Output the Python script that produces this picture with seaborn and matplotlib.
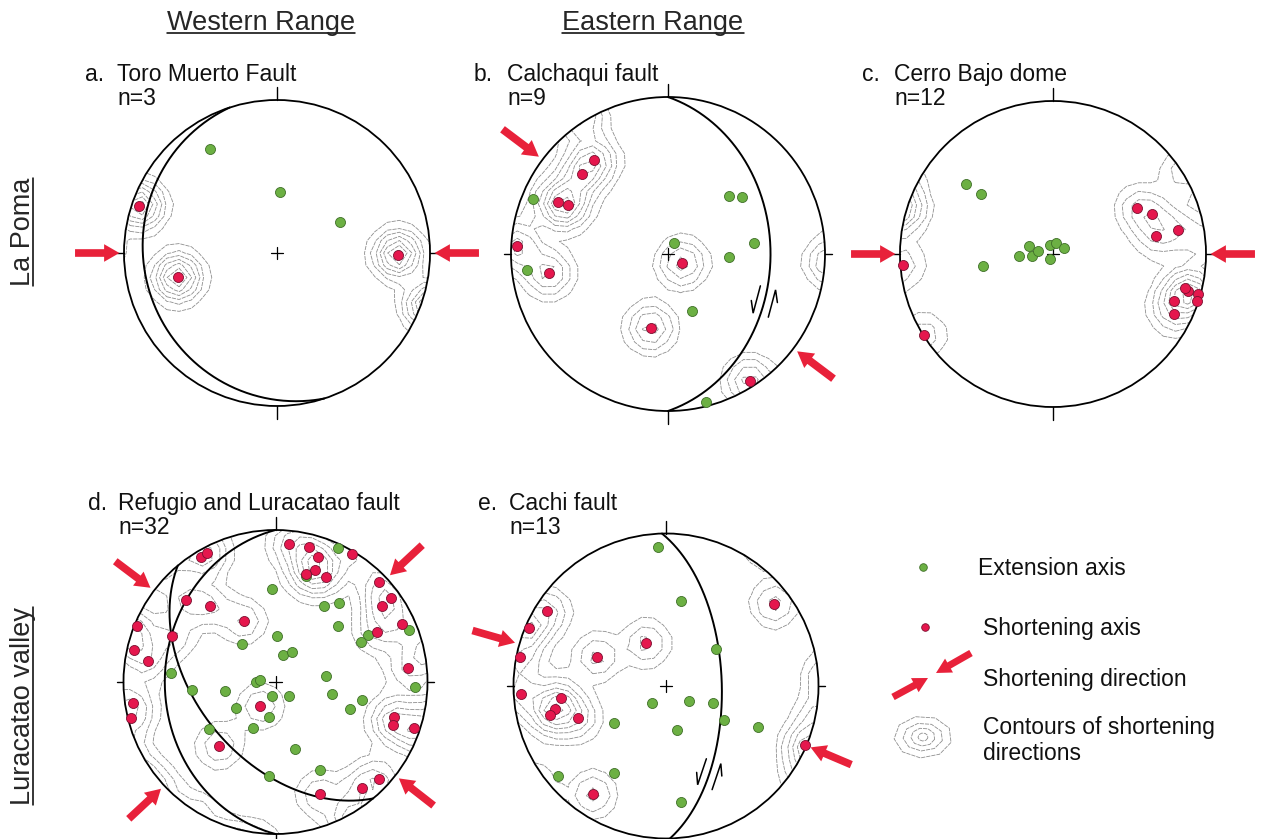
import numpy as np
import matplotlib
matplotlib.use("Agg")
import matplotlib.pyplot as plt
from matplotlib.patches import Circle, FancyArrow, Polygon
import seaborn as sns

sns.set_theme(style="white")
plt.rcParams["font.family"] = ["Liberation Sans", "DejaVu Sans"]

W, H = 1261, 839

# Axis positions on lower-hemisphere equal-area nets (east, north), in % of net radius
a_ext_e = [-44, 2, 41]
a_ext_n = [68, 40, 20]
a_sh_e = [-90, -65, 79]
a_sh_n = [31, -16, -1]

b_ext_e = [-86, -90, 4, 39, 47, 55, 39, 15, 24]
b_ext_n = [35, -10, 7, 37, 36, 7, -2, -36, -94]
b_sh_e = [-47, -55, -70, -64, -96, -76, 9, -11, 52]
b_sh_n = [60, 51, 33, 31, 5, -12, -6, -47, -81]

c_ext_e = [-57, -47, -46, -16, -22, -14, -10, -2, 2, 7, -2]
c_ext_n = [46, 39, -8, 5, -1, -1, 2, 6, 7, 4, -3]
c_sh_e = [55, 65, 67, 82, 88, 86, 95, 94, 79, 79, -98, -84]
c_sh_n = [30, 26, 12, 16, -24, -22, -26, -31, -31, -39, -7, -53]

d_ext_e = [41, 20, -2, 32, 42, 41, 1, -22, 5, 11, 61, 56, 88, -69, -55, -33,
           -13, -10, -2, 9, 33, 37, 57, 49, -26, -4, -15, -44, 13, 29, -4, 92]
d_ext_n = [88, 70, 61, 50, 52, 37, 30, 25, 18, 20, 31, 26, 34, 6, -5, -6,
           0, 1, -9, -9, 4, -8, -12, -18, -17, -23, -30, -31, -44, -58, -62, -3]
d_sh_e = [9, 22, 28, 26, 20, 33, 50, -49, -45, 68, 76, 70, 83, 67, -59, -43,
          -21, -91, -68, -93, -84, 87, -94, -95, -10, 78, 77, 91, -37, 68, 57, 29]
d_sh_n = [91, 89, 82, 74, 71, 69, 84, 82, 85, 66, 55, 50, 38, 33, 54, 50,
          40, 37, 30, 21, 14, 9, -14, -24, -16, -23, -28, -30, -42, -64, -70, -74]

e_ext_e = [-5, 10, 33, -9, 15, 31, 38, 60, 7, -34, -71, -34, 10]
e_ext_n = [91, 56, 24, -11, -10, -11, -22, -27, -29, -24, -59, -57, -76]
e_sh_e = [-78, -90, -96, -95, -69, -73, -76, -58, -45, -13, -48, 71, 91]
e_sh_n = [49, 38, 19, -5, -8, -15, -19, -21, 19, 28, -71, 54, -39]

# Fault planes (strike, dip; right-hand rule)
a_faults = [(162, 14)]
b_faults = [(0, 35)]
c_faults = []
d_faults = [(180, 28), (140, 48)]
e_faults = [(358.5, 60)]

# Shortening directions (azimuth, degrees)
a_short = [90, 270]
b_short = [307, 127]
c_short = [90, 270]
d_short = [307, 47, 227, 128]
e_short = [286, 113]

# Northing (fraction of radius) where the shear-sense symbol sits on the fault
b_shear = [-0.30]
e_shear = [-0.58]

titles = ["Toro Muerto Fault", "Calchaqui fault", "Cerro Bajo dome",
          "Refugio and Luracatao fault", "Cachi fault"]
letters = ["a.", "b.", "c.", "d.", "e."]
counts = [3, 9, 12, 32, 13]

GREEN = "#6cb043"
GREEN_EDGE = "#3f6f28"
RED = "#e5174d"
RED_EDGE = "#7a1030"
ARROW = "#e8213a"
CONTOUR = "#8e8e8e"

panels = [
    dict(c=(277, 253), R=153, ext=(a_ext_e, a_ext_n), sh=(a_sh_e, a_sh_n),
         faults=a_faults, short=a_short, shear=[]),
    dict(c=(668, 254), R=157, ext=(b_ext_e, b_ext_n), sh=(b_sh_e, b_sh_n),
         faults=b_faults, short=b_short, shear=b_shear),
    dict(c=(1053, 254), R=153, ext=(c_ext_e, c_ext_n), sh=(c_sh_e, c_sh_n),
         faults=c_faults, short=c_short, shear=[]),
    dict(c=(275.5, 682), R=152, ext=(d_ext_e, d_ext_n), sh=(d_sh_e, d_sh_n),
         faults=d_faults, short=d_short, shear=[]),
    dict(c=(666, 686), R=152.5, ext=(e_ext_e, e_ext_n), sh=(e_sh_e, e_sh_n),
         faults=e_faults, short=e_short, shear=e_shear),
]


def great_circle(strike, dip, n=361):
    s, d = np.radians(strike), np.radians(dip)
    ang = np.radians(np.linspace(0, 180, n))
    sv = np.array([np.sin(s), np.cos(s), 0.0])
    dd = s + np.pi / 2
    dv = np.array([np.cos(d) * np.sin(dd), np.cos(d) * np.cos(dd), -np.sin(d)])
    v = np.outer(np.cos(ang), sv) + np.outer(np.sin(ang), dv)
    plunge = np.arcsin(np.clip(-v[:, 2], -1, 1))
    trend = np.arctan2(v[:, 0], v[:, 1])
    r = np.sqrt(2) * np.sin((np.pi / 2 - plunge) / 2)
    return r * np.sin(trend), r * np.cos(trend)


def density_grid(px, py, sigma=0.09, step=0.08):
    # counting grid of shortening axes, mirrored across the primitive
    pts = np.column_stack([px, py])
    r = np.hypot(pts[:, 0], pts[:, 1])
    near = r > 0.55
    refl = -pts[near] / r[near, None] * (2 - r[near, None])
    allp = np.vstack([pts, refl])
    g = np.arange(-1.2, 1.2 + step / 2, step)
    gx, gy = np.meshgrid(g, g)
    dens = np.zeros_like(gx)
    for x0, y0 in allp:
        dens += np.exp(-((gx - x0) ** 2 + (gy - y0) ** 2) / (2 * sigma ** 2))
    return gx, gy, dens


fig = plt.figure(figsize=(W / 100, H / 100), dpi=100)
fig.patch.set_facecolor("white")

# full-figure layer for text and legend (pixel coordinates)
ax0 = fig.add_axes([0, 0, 1, 1])
ax0.set_xlim(0, W)
ax0.set_ylim(H, 0)
ax0.axis("off")

L = 1.42
for i, p in enumerate(panels):
    cx, cy = p["c"]
    R = p["R"]
    ax = fig.add_axes([(cx - L * R) / W, 1 - (cy + L * R) / H, 2 * L * R / W, 2 * L * R / H])
    ax.set_xlim(-L, L)
    ax.set_ylim(-L, L)
    ax.axis("off")
    ax.patch.set_alpha(0)

    ex = np.array(p["ext"][0]) / 100.0
    ey = np.array(p["ext"][1]) / 100.0
    sx = np.array(p["sh"][0]) / 100.0
    sy = np.array(p["sh"][1]) / 100.0

    # contours of shortening axes
    gx, gy, dens = density_grid(sx, sy)
    levels = dens.max() * np.array([0.07, 0.17, 0.3, 0.45, 0.6, 0.75, 0.9])
    cs = ax.contour(gx, gy, dens, levels=levels, colors=CONTOUR, linewidths=0.6,
                    linestyles=[(0, (5, 1.2))], zorder=1)
    clip = Circle((0, 0), 1.0, transform=ax.transData, facecolor="none", edgecolor="none")
    ax.add_patch(clip)
    cs.set_clip_path(clip)

    # primitive and ticks
    ax.add_patch(Circle((0, 0), 1.0, facecolor="none", edgecolor="black", lw=1.3, zorder=3))
    ax.plot([0, 0], [1.0, 1.085], color="black", lw=1.0)
    ax.plot([0, 0], [-1.0, -1.085], color="black", lw=1.0)
    ax.plot([1.0, 1.045], [0, 0], color="black", lw=1.0)
    ax.plot([-1.0, -1.045], [0, 0], color="black", lw=1.0)
    ax.plot([-0.04, 0.04], [0, 0], color="black", lw=0.9)
    ax.plot([0, 0], [-0.04, 0.04], color="black", lw=0.9)

    # fault planes
    arcs = []
    for strike, dip in p["faults"]:
        x, y = great_circle(strike, dip)
        ax.plot(x, y, color="black", lw=1.4, zorder=3)
        arcs.append((x, y))

    # shear-sense half arrows beside the fault
    for y0 in p["shear"]:
        x, y = arcs[0]
        k = int(np.argmin(np.abs(y - y0)))
        t = np.array([x[k + 1] - x[k - 1], y[k + 1] - y[k - 1]])
        t /= np.hypot(*t)
        if t[1] < 0:
            t = -t
        nl = np.array([-t[1], t[0]])
        if nl[0] > 0:
            nl = -nl
        P = np.array([x[k], y[k]])
        Ls, off, bl, bw = 0.18, 0.05, 0.075, 0.032
        for side, sgn in ((nl, -1), (-nl, 1)):
            c0 = P + side * off
            start = c0 - sgn * t * Ls / 2
            tip = c0 + sgn * t * Ls / 2
            barb = tip - sgn * t * bl + side * bw
            ax.plot([start[0], tip[0], barb[0]], [start[1], tip[1], barb[1]],
                    color="black", lw=1.1, zorder=3, solid_joinstyle="miter")

    # axes
    sns.scatterplot(x=ex, y=ey, ax=ax, color=GREEN, edgecolor=GREEN_EDGE, linewidth=0.6,
                    s=52, zorder=4, legend=False)
    sns.scatterplot(x=sx, y=sy, ax=ax, color=RED, edgecolor=RED_EDGE, linewidth=0.6,
                    s=52, zorder=5, legend=False)

    # shortening direction arrows
    for az in p["short"]:
        a = np.radians(az)
        u = np.array([np.sin(a), np.cos(a)])
        tail = u * 1.32
        head = u * 1.03
        ax.add_patch(FancyArrow(tail[0], tail[1], head[0] - tail[0], head[1] - tail[1],
                                width=0.05, head_width=0.115, head_length=0.1,
                                length_includes_head=True, color=ARROW, lw=0, zorder=6,
                                clip_on=False))

# panel titles
title_x = [(85, 117), (474, 507), (862, 894), (88, 118), (478, 509)]
title_y = [81, 81, 81, 510, 510]
for i in range(5):
    lx, tx = title_x[i]
    ax0.text(lx, title_y[i], letters[i], fontsize=16.5, va="baseline", color="#111111")
    ax0.text(tx, title_y[i], titles[i], fontsize=16.5, va="baseline", color="#111111")
    ax0.text(tx, title_y[i] + 24, f"n={counts[i]}", fontsize=16.5, va="baseline", color="#111111")

# headers with underline
headers = []
headers.append(ax0.text(261, 30, "Western Range", fontsize=19.5, ha="center", va="baseline"))
headers.append(ax0.text(653, 30, "Eastern Range", fontsize=19.5, ha="center", va="baseline"))
rows = []
rows.append(ax0.text(30, 232, "La Poma", fontsize=19.5, rotation=90, ha="center",
                     va="baseline", rotation_mode="anchor"))
rows.append(ax0.text(30, 706, "Luracatao valley", fontsize=19.5, rotation=90, ha="center",
                     va="baseline", rotation_mode="anchor"))

fig.canvas.draw()
inv = ax0.transData.inverted()
for t in headers:
    bb = t.get_window_extent()
    (x0, _), (x1, _) = inv.transform([[bb.x0, bb.y0], [bb.x1, bb.y1]])
    ax0.plot([x0, x1], [33, 33], color="black", lw=1.1)
for t in rows:
    bb = t.get_window_extent()
    (_, y0), (_, y1) = inv.transform([[bb.x0, bb.y0], [bb.x1, bb.y1]])
    ax0.plot([33, 33], [y0, y1], color="black", lw=1.1)

# legend
ax0.scatter([923], [567], s=30, color=GREEN, edgecolor=GREEN_EDGE, linewidth=0.6)
ax0.text(978, 575, "Extension axis", fontsize=16.5, va="baseline", color="#111111")
ax0.scatter([925], [627], s=30, color=RED, edgecolor=RED_EDGE, linewidth=0.6)
ax0.text(983, 635, "Shortening axis", fontsize=16.5, va="baseline", color="#111111")
for (x0, y0, x1, y1) in [(971, 653, 936, 673), (893, 697, 928, 678)]:
    ax0.add_patch(FancyArrow(x0, y0, x1 - x0, y1 - y0, width=7, head_width=16, head_length=15,
                             length_includes_head=True, color=ARROW, lw=0))
ax0.text(983, 686, "Shortening direction", fontsize=16.5, va="baseline", color="#111111")
for sx_, sy_ in [(29, 21), (20, 14), (12, 9), (5, 4)]:
    ang = np.radians(np.arange(0, 360, 40) + 15)
    px = 923 + sx_ * np.cos(ang)
    py = 737 + sy_ * np.sin(ang)
    ax0.add_patch(Polygon(np.column_stack([px, py]), closed=True, fill=False,
                          edgecolor=CONTOUR, lw=0.6, linestyle=(0, (5, 1.2))))
ax0.text(983, 734, "Contours of shortening", fontsize=16.5, va="baseline", color="#111111")
ax0.text(983, 760, "directions", fontsize=16.5, va="baseline", color="#111111")

fig.savefig("out.png", dpi=100, facecolor="white")
